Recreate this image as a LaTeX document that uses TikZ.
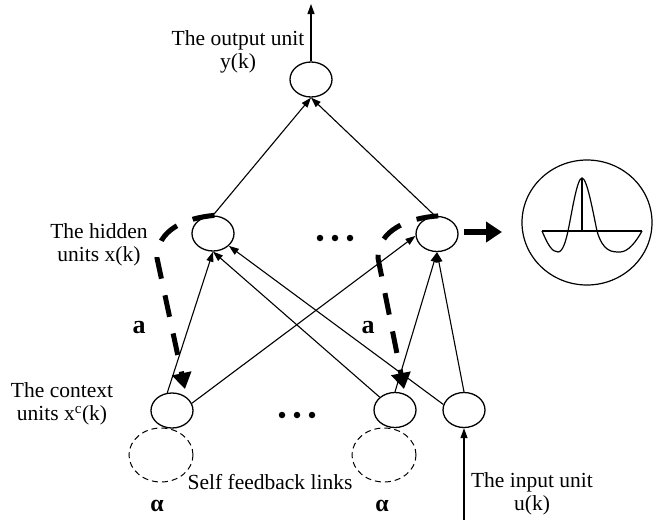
\documentclass[tikz,border=0pt]{standalone}
\usepackage{fontspec}
\setmainfont{Liberation Serif}
\usetikzlibrary{shapes.geometric,arrows.meta}
\begin{document}
\begin{tikzpicture}[x=1pt,y=-1pt,
  unit/.style={ellipse,draw,line width=1.3pt,minimum width=42pt,minimum height=35pt,inner sep=0pt},
  fbcircle/.style={ellipse,draw,dashed,dash pattern=on 6pt off 4pt,line width=1pt,minimum width=64pt,minimum height=54pt,inner sep=0pt},
  conn/.style={line width=1.1pt,-{Triangle[width=7pt,length=10pt]}},
  fbarrow/.style={line width=5pt,dash pattern=on 22pt off 17pt,-{Triangle[width=19pt,length=16pt]}},
  lbl/.style={font=\fontsize{21.5}{23}\selectfont,align=center,inner sep=0pt},
  wlbl/.style={font=\fontsize{26}{28}\selectfont\bfseries,inner sep=0pt},
  dotc/.style={circle,fill,inner sep=0pt,minimum size=6.5pt}
]
\useasboundingbox (0,0) rectangle (653,520);

% units
\node[unit] (out) at (311,79.5) {};
\node[unit] (hl) at (213,233.5) {};
\node[unit] (hr) at (437,234) {};
\node[unit] (cl) at (172,410.5) {};
\node[unit] (cr) at (395,410) {};
\node[unit] (in) at (464,410) {};
\node[fbcircle] (dl) at (161,455) {};
\node[fbcircle] (dr) at (384,455) {};
\node[ellipse,draw,line width=1.2pt,minimum width=130pt,minimum height=125pt,inner sep=0pt] (bigc) at (587,222.5) {};

% dots
\node[dotc] (hd1) at (320,238) {};
\node[dotc] (hd2) at (335,238) {};
\node[dotc] (hd3) at (350,238) {};
\node[dotc] (cd1) at (282,415) {};
\node[dotc] (cd2) at (297,415) {};
\node[dotc] (cd3) at (312,415) {};

% labels
\node[lbl] (tout) at (238,51.5) {The output unit\\y(k)};
\node[lbl] (thid) at (99,245) {The hidden\\units x(k)};
\node[lbl] (tctx) at (62,404) {The context\\units x\textsuperscript{c}(k)};
\node[lbl] (tin) at (532,494) {The input unit\\u(k)};
\node[lbl] (tself) at (270,482) {Self feedback links};
\node[wlbl] (al) at (139,328) {a};
\node[wlbl] (ar) at (368,328) {a};
\node[wlbl,font=\fontsize{24}{26}\selectfont\bfseries] (alphl) at (157,506) {α};
\node[wlbl,font=\fontsize{24}{26}\selectfont\bfseries] (alphr) at (382,506) {α};

% coordinates for free ends
\coordinate (otop) at (311,4);
\coordinate (ibot) at (464,520);
\coordinate (fbl) at (185,389);
\coordinate (fbr) at (404,389);
\coordinate (rbs) at (464,232);
\coordinate (rbe) at (502,232);

% connections
\draw[conn] (out.north) -- (otop);
\draw[conn] (hl.north) -- (out.south);
\draw[conn] (hr.96) -- (out.south);
\draw[conn] (cl.105) -- (hl.south);
\draw[conn] (cl.20) -- (hr.185);
\draw[conn] (cr.140) -- (hl.south);
\draw[conn] (in.165) -- (hl.-38);
\draw[conn] (cr.north) -- (hr.south);
\draw[conn] (in.north) -- (hr.south);
\draw[conn] (ibot) -- (in.south);

% feedback (dashed thick) arrows
\draw[fbarrow] (hl.86) .. controls (185,218) and (157,230) .. (157,258) -- (fbl);
\draw[fbarrow] (hr.86) .. controls (408,218) and (378,230) .. (378,258) -- (fbr);

% thick arrow to radial function
\draw[line width=6pt,-{Triangle[width=20pt,length=16pt]}] (rbs) -- (rbe);

% mexican hat
\draw[line width=1.2pt] (542,231) -- (642,231);
\draw[line width=1.2pt] (582,178) -- (582,231);
\draw[line width=1.2pt] (542,231) .. controls (548,245) and (552,252) .. (558,252)
  .. controls (563,252) and (566,240) .. (568,231)
  .. controls (572,212) and (577,178) .. (582,178)
  .. controls (587,178) and (593,212) .. (597,231)
  .. controls (603,252) and (612,252) .. (620,252)
  .. controls (628,252) and (636,242) .. (642,231);
\end{tikzpicture}
\end{document}
